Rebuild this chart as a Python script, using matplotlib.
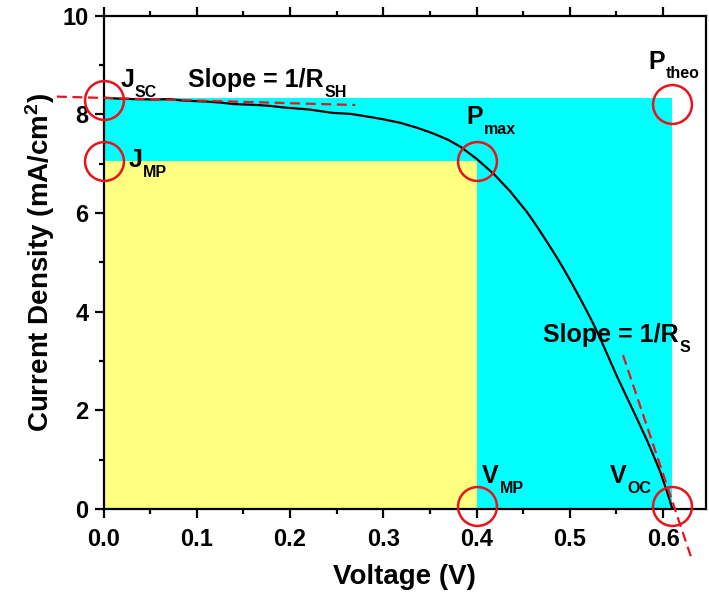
import matplotlib
matplotlib.use('Agg')
import matplotlib.pyplot as plt
from matplotlib.patches import Rectangle
from matplotlib.ticker import MultipleLocator, FormatStrFormatter

plt.rcParams['font.family'] = ['Liberation Sans', 'DejaVu Sans']
plt.rcParams['font.weight'] = 'bold'
plt.rcParams['axes.labelweight'] = 'bold'
plt.rcParams['mathtext.fontset'] = 'custom'
plt.rcParams['mathtext.rm'] = 'Liberation Sans:bold'
plt.rcParams['mathtext.it'] = 'Liberation Sans:bold'
plt.rcParams['mathtext.bf'] = 'Liberation Sans:bold'

# J-V curve
voltage = [0.0, 0.016, 0.032, 0.055, 0.07, 0.085, 0.11, 0.125, 0.139, 0.165,
           0.18, 0.193, 0.22, 0.246, 0.265, 0.285, 0.30, 0.318, 0.336, 0.354,
           0.37, 0.383, 0.40, 0.418, 0.436, 0.454, 0.465, 0.476, 0.485, 0.493,
           0.502, 0.511, 0.518, 0.525, 0.533, 0.54, 0.55, 0.561, 0.572, 0.583,
           0.59, 0.597, 0.604, 0.61]
current = [8.34, 8.32, 8.31, 8.30, 8.31, 8.28, 8.26, 8.24, 8.21, 8.19,
           8.17, 8.14, 8.10, 8.03, 8.01, 7.95, 7.90, 7.83, 7.73, 7.61,
           7.48, 7.34, 7.10, 6.80, 6.44, 6.02, 5.72, 5.40, 5.13, 4.88,
           4.58, 4.27, 4.02, 3.76, 3.44, 3.14, 2.71, 2.27, 1.83, 1.38,
           1.07, 0.75, 0.36, 0.0]

# characteristic points
v_mp, j_mp = 0.40, 7.06
v_oc, j_sc = 0.61, 8.34

# tangent lines (dashed)
shunt_v = [-0.05, 0.27]
shunt_j = [8.36, 8.19]
series_v = [0.557, 0.631]
series_j = [3.12, -1.03]

fig = plt.figure(figsize=(7.09, 5.98), dpi=100)
ax = fig.add_axes([0.146, 0.1488, 0.8498, 0.8249])

ax.add_patch(Rectangle((0, 0), v_oc, j_sc, facecolor='#00ffff', edgecolor='none', zorder=0))
ax.add_patch(Rectangle((0, 0), v_mp, j_mp, facecolor='#ffff80', edgecolor='none', zorder=1))

ax.plot(voltage, current, color='black', lw=1.6, zorder=3)

ax.plot(shunt_v, shunt_j, color='#e8141c', lw=1.6, dashes=(4.5, 2.5), clip_on=False, zorder=4)
ax.plot(series_v, series_j, color='#e8141c', lw=1.6, dashes=(4.5, 2.5), clip_on=False, zorder=4)

circ_v = [0, 0, v_mp, v_oc, v_mp, v_oc]
circ_j = [j_sc - 0.04, j_mp, j_mp, j_sc - 0.12, 0.06, 0.06]
ax.plot(circ_v, circ_j, 'o', ms=28, mfc='none', mec='#e8141c', mew=1.8,
        clip_on=False, zorder=5)

renderer = fig.canvas.get_renderer()


def label(x, y, main, sub):
    t = ax.text(x, y, main, fontsize=18, fontweight='bold')
    w = t.get_window_extent(renderer).width * 72 / fig.dpi
    ax.annotate(sub, xy=(x, y), xytext=(w + 0.5, -7), textcoords='offset points',
                fontsize=11.5, fontweight='bold', va='baseline')


label(0.018, 8.55, 'J', 'SC')
label(0.091, 8.55, 'Slope = 1/R', 'SH')
label(0.027, 6.93, 'J', 'MP')
label(0.389, 7.80, 'P', 'max')
label(0.584, 8.93, 'P', 'theo')
label(0.406, 0.52, 'V', 'MP')
label(0.543, 0.52, 'V', 'OC')
label(0.471, 3.39, 'Slope = 1/R', 'S')

ax.set_xlim(0, 0.646)
ax.set_ylim(0, 10)
ax.xaxis.set_major_locator(MultipleLocator(0.1))
ax.xaxis.set_minor_locator(MultipleLocator(0.05))
ax.yaxis.set_major_locator(MultipleLocator(2))
ax.yaxis.set_minor_locator(MultipleLocator(1))
ax.xaxis.set_major_formatter(FormatStrFormatter('%.1f'))

for s in ax.spines.values():
    s.set_linewidth(1.6)
ax.tick_params(which='both', direction='out', top=True, right=False, width=1.6,
               labelsize=17)
ax.tick_params(axis='x', pad=7)
ax.tick_params(axis='y', pad=4)
ax.tick_params(which='major', length=6.8)
ax.tick_params(which='minor', length=3.5)

ax.set_xlabel('Voltage (V)', fontsize=20, labelpad=9)
ax.set_ylabel('Current Density (mA/cm$^{2}$)', fontsize=20, labelpad=4)

fig.savefig('out.png', dpi=100)
